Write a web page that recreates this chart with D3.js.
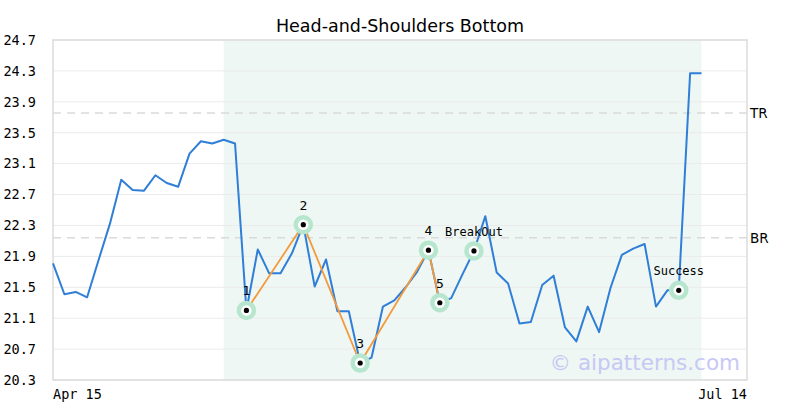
<!DOCTYPE html>
<html><head><meta charset="utf-8">
<script src="https://cdn.jsdelivr.net/npm/d3@7"></script>
<style>body{margin:0;background:#fff}</style>
</head><body>
<svg id="c" width="800" height="419"></svg>
<script>
const title = "Head-and-Shoulders Bottom";
const prices = [21.81,21.41,21.44,21.37,21.85,22.32,22.89,22.76,22.75,22.95,22.85,22.80,23.23,23.39,23.36,23.41,23.36,
  21.20,21.99,21.68,21.68,21.94,22.31,21.51,21.86,21.19,21.19,20.52,20.59,21.25,21.33,21.50,21.70,21.98,21.30,21.36,21.67,
  21.97,22.42,21.69,21.55,21.03,21.05,21.53,21.65,20.98,20.80,21.25,20.92,21.49,21.92,22.00,22.06,21.25,21.46,21.46,24.27,24.27];
const yTicks = [20.3,20.7,21.1,21.5,21.9,22.3,22.7,23.1,23.5,23.9,24.3,24.7];
const xLabels = ["Apr 15","Jul 14"];
const patternIdx = [17,22,27,33,34];
const markerIdx = [17,22,27,33,34,37,55];
const markerLabels = ["1","2","3","4","5","BreakOut","Success"];
const shadeRange = [15,57];
const levels = [{name:"TR", v:23.755},{name:"BR", v:22.14}];
const xDomainEnd = 61;

const svg = d3.select("#c");
const L=53, R=747, T=40, B=380;
const x = d3.scaleLinear().domain([0,xDomainEnd]).range([L,R]);
const y = d3.scaleLinear().domain([20.3,24.7]).range([B,T]);
const mono = "'DejaVu Sans Mono', monospace";
const sans = "'DejaVu Sans', sans-serif";

svg.append("text").attr("x",400).attr("y",32).attr("text-anchor","middle")
  .attr("font-family",sans).attr("font-size",17.5).attr("fill","#000").text(title);

// shade
svg.append("rect").attr("x",x(shadeRange[0])).attr("y",T)
  .attr("width",x(shadeRange[1])-x(shadeRange[0])).attr("height",B-T).attr("fill","#eef7f3");

// grid
svg.append("g").selectAll("line").data(yTicks).join("line")
  .attr("x1",L).attr("x2",R).attr("y1",d=>y(d)).attr("y2",d=>y(d))
  .attr("stroke","#ebebeb").attr("stroke-width",1);

// y axis labels
const yAxis = d3.axisLeft(y).tickValues(yTicks).tickFormat(d3.format(".1f")).tickSize(0).tickPadding(17);
const gy = svg.append("g").attr("transform",`translate(${L},0)`).call(yAxis);
gy.select(".domain").remove();
gy.selectAll("text").attr("font-family",mono).attr("font-size",13.5).attr("fill","#000");

// x labels
svg.append("text").attr("x",x(0)).attr("y",B+19).attr("text-anchor","start")
  .attr("font-family",mono).attr("font-size",13.5).text(xLabels[0]);
svg.append("text").attr("x",x(xDomainEnd)).attr("y",B+19).attr("text-anchor","end")
  .attr("font-family",mono).attr("font-size",13.5).text(xLabels[1]);

// border
svg.append("rect").attr("x",L).attr("y",T).attr("width",R-L).attr("height",B-T)
  .attr("fill","none").attr("stroke","#dcdcdc").attr("stroke-width",1.5);

// levels
levels.forEach(l=>{
  svg.append("line").attr("x1",L).attr("x2",R).attr("y1",y(l.v)).attr("y2",y(l.v))
    .attr("stroke","#dadada").attr("stroke-width",1.5).attr("stroke-dasharray","8,6");
  svg.append("text").attr("x",R+3).attr("y",y(l.v)).attr("dy","0.35em")
    .attr("font-family",sans).attr("font-size",13.5).text(l.name);
});

// watermark
svg.append("text").attr("x",740).attr("y",370).attr("text-anchor","end")
  .attr("font-family",sans).attr("font-size",21.5).attr("fill","#c8c8f4").text("© aipatterns.com");

// price line
const line = d3.line().x((d,i)=>x(i)).y(d=>y(d));
svg.append("path").datum(prices).attr("d",line).attr("fill","none")
  .attr("stroke","#2f7ed8").attr("stroke-width",2).attr("stroke-linejoin","round");

// pattern line
const pl = d3.line().x(i=>x(i)).y(i=>y(prices[i]));
svg.append("path").datum(patternIdx).attr("d",pl).attr("fill","none")
  .attr("stroke","#f39a3c").attr("stroke-width",1.8);

// markers
const mg = svg.append("g").selectAll("g").data(markerIdx).join("g")
  .attr("transform",i=>`translate(${x(i)},${y(prices[i])})`);
mg.append("circle").attr("r",7.5).attr("fill","#fff").attr("stroke","#b6e6cd").attr("stroke-width",4.5);
mg.append("circle").attr("r",2.6).attr("fill","#000");
mg.append("text").attr("y",-15).attr("text-anchor","middle")
  .attr("font-family",mono).attr("font-size",(i,k)=>markerLabels[k].length===1?13:12).attr("fill","#000")
  .text((i,k)=>markerLabels[k]);
</script>
</body></html>
